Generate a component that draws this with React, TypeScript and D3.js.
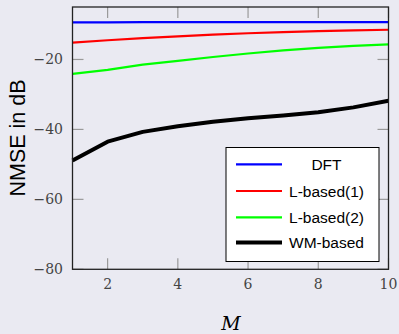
import React from "react";
import * as d3 from "d3";

const M = [1, 2, 3, 4, 5, 6, 7, 8, 9, 10];
const dft = [-9.4, -9.4, -9.3, -9.3, -9.3, -9.3, -9.3, -9.3, -9.3, -9.3];
const lbased1 = [-15.2, -14.5, -13.9, -13.4, -12.9, -12.5, -12.2, -11.9, -11.7, -11.5];
const lbased2 = [-24.1, -23.0, -21.5, -20.4, -19.3, -18.3, -17.4, -16.7, -16.1, -15.7];
const wmbased = [-48.9, -43.5, -40.7, -39.1, -37.8, -36.8, -36.0, -35.1, -33.7, -31.8];
const xTicks = [2, 4, 6, 8, 10];
const yTicks = [-80, -60, -40, -20];

const series = [
  { name: "DFT", values: dft, color: "#0000ff", width: 2.2 },
  { name: "L-based(1)", values: lbased1, color: "#ff0000", width: 2.2 },
  { name: "L-based(2)", values: lbased2, color: "#00ff00", width: 2.2 },
  { name: "WM-based", values: wmbased, color: "#000000", width: 4 },
];

export default function App() {
  const W = 399, H = 334;
  const left = 72.5, right = 388.5, top = 7, bottom = 269.3;
  const x = d3.scaleLinear().domain([1, 10]).range([left, right]);
  const y = d3.scaleLinear().domain([-80, -5]).range([bottom, top]);
  const line = (vals: number[]) =>
    d3.line<number>().x((_, i) => x(M[i])).y((v) => y(v))(vals) || "";
  const tickLen = 11;
  const legX = 226, legY = 147.5, legW = 153, legH = 114;
  const rowY = [164.3, 191, 217.3, 242.5];
  return (
    <svg width={W} height={H} style={{ position: "fixed", left: 0, top: 0 }}>
      <rect x={0} y={0} width={W} height={H} fill="#eaeaf2" />
      {xTicks.map((t) => (
        <g key={"x" + t}>
          <line x1={x(t)} x2={x(t)} y1={bottom} y2={bottom - tickLen} stroke="#9a9a9a" strokeWidth={1.2} />
          <line x1={x(t)} x2={x(t)} y1={top} y2={top + tickLen} stroke="#9a9a9a" strokeWidth={1.2} />
          <text x={x(t)} y={289} textAnchor="middle" fontFamily="DejaVu Serif" fontSize={14} fill="#444">{t}</text>
        </g>
      ))}
      {yTicks.map((t) => (
        <g key={"y" + t}>
          <line x1={left} x2={left + tickLen} y1={y(t)} y2={y(t)} stroke="#9a9a9a" strokeWidth={1.2} />
          <line x1={right} x2={right - tickLen} y1={y(t)} y2={y(t)} stroke="#9a9a9a" strokeWidth={1.2} />
          <text x={63} y={y(t) + 5} textAnchor="end" fontFamily="DejaVu Serif" fontSize={14} fill="#444">{"\u2212" + Math.abs(t)}</text>
        </g>
      ))}
      {series.map((s) => (
        <path key={s.name} d={line(s.values)} fill="none" stroke={s.color} strokeWidth={s.width} strokeLinejoin="round" />
      ))}
      <rect x={left} y={top} width={right - left} height={bottom - top} fill="none" stroke="#222" strokeWidth={1.3} />
      <rect x={legX} y={legY} width={legW} height={legH} fill="#ffffff" stroke="#000" strokeWidth={1} />
      {series.map((s, i) => (
        <g key={"leg" + s.name}>
          <line x1={236} x2={282} y1={rowY[i]} y2={rowY[i]} stroke={s.color} strokeWidth={s.width} />
          <text x={326.5} y={rowY[i] + 5.5} textAnchor="middle" fontFamily="Liberation Sans" fontSize={15.5} fill="#000">{s.name}</text>
        </g>
      ))}
      <text transform={`translate(25,138) rotate(-90)`} textAnchor="middle" fontFamily="Liberation Sans" fontSize={21.5} fill="#000">NMSE in dB</text>
      <text x={231} y={330} textAnchor="middle" fontFamily="DejaVu Serif" fontStyle="italic" fontSize={19} fill="#000">M</text>
    </svg>
  );
}
